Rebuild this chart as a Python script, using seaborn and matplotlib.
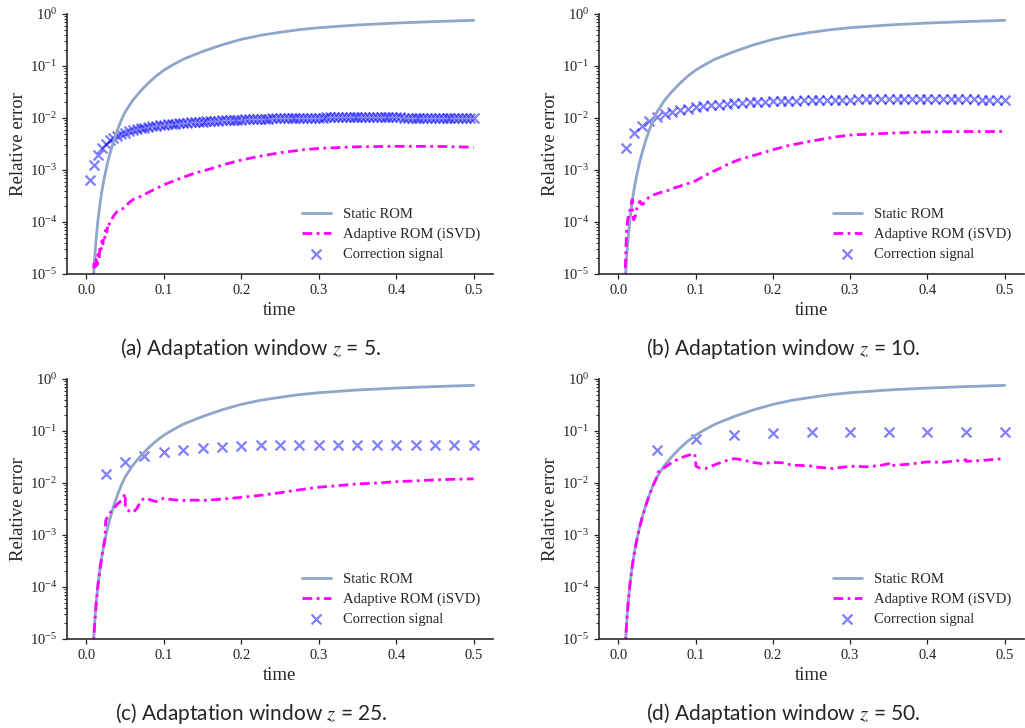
import numpy as np
import pandas as pd
import matplotlib
matplotlib.use("Agg")
import matplotlib.pyplot as plt
import seaborn as sns

# ---------------- data ----------------
static_t = [0.008, 0.0095, 0.011, 0.0125, 0.015, 0.0175, 0.02, 0.0225, 0.025, 0.0275,
            0.03, 0.035, 0.04, 0.045, 0.05, 0.06, 0.07, 0.08, 0.09, 0.1, 0.11, 0.125,
            0.15, 0.175, 0.2, 0.225, 0.25, 0.275, 0.3, 0.35, 0.4, 0.45, 0.5]
static_err = [2e-6, 1e-5, 2.3e-5, 4.5e-5, 1.1e-4, 2.2e-4, 3.9e-4, 6.3e-4, 9.5e-4, 1.4e-3,
              1.95e-3, 3.5e-3, 5.8e-3, 9.0e-3, 1.3e-2, 2.2e-2, 3.3e-2, 4.7e-2, 6.4e-2, 8.3e-2,
              0.102, 0.135, 0.19, 0.255, 0.325, 0.39, 0.445, 0.5, 0.545, 0.615, 0.67, 0.715, 0.755]

# (a) z = 5
a_adapt_t = [0.007, 0.009, 0.01, 0.0115, 0.0125, 0.014, 0.015, 0.0165, 0.0175, 0.019, 0.02,
             0.0215, 0.0225, 0.024, 0.025, 0.0265, 0.0275, 0.029, 0.03, 0.0325, 0.035, 0.0375,
             0.04, 0.045, 0.05, 0.055, 0.06, 0.07, 0.08, 0.09, 0.1, 0.12, 0.14, 0.16, 0.18,
             0.2, 0.22, 0.25, 0.28, 0.3, 0.35, 0.4, 0.45, 0.5]
a_adapt_err = [5e-6, 1.0e-5, 1.6e-5, 1.2e-5, 1.9e-5, 1.5e-5, 2.4e-5, 2.0e-5, 3.2e-5, 2.8e-5, 4.3e-5,
               3.8e-5, 5.5e-5, 5.0e-5, 7.0e-5, 6.4e-5, 8.5e-5, 8.0e-5, 1.0e-4, 1.1e-4, 1.3e-4, 1.45e-4,
               1.6e-4, 1.75e-4, 1.9e-4, 2.35e-4, 2.7e-4, 3.1e-4, 3.7e-4, 4.4e-4, 5.2e-4, 6.8e-4,
               8.7e-4, 1.05e-3, 1.3e-3, 1.55e-3, 1.8e-3, 2.15e-3, 2.45e-3, 2.6e-3, 2.8e-3, 2.85e-3,
               2.85e-3, 2.75e-3]
a_corr_t = [round(0.005 * k, 3) for k in range(1, 101)]
a_corr_milli = [0.65, 1.25, 1.95, 2.6, 3.2, 3.7, 4.15, 4.55, 4.9, 5.25,
                5.55, 5.8, 6.05, 6.3, 6.5, 6.7, 6.9, 7.05, 7.2, 7.35,
                7.5, 7.65, 7.8, 7.9, 8.0, 8.15, 8.25, 8.35, 8.45, 8.55,
                8.65, 8.75, 8.85, 8.9, 9.0, 9.1, 9.15, 9.2, 9.3, 9.35,
                9.4, 9.5, 9.55, 9.6, 9.65, 9.7, 9.75, 9.8, 9.85, 9.9,
                9.95, 10.0, 10.0, 10.05, 10.1, 10.1, 10.15, 10.15, 10.2, 10.2,
                10.2, 10.25, 10.25, 10.25, 10.3, 10.3, 10.3, 10.3, 10.3, 10.3,
                10.3, 10.3, 10.3, 10.3, 10.3, 10.3, 10.25, 10.25, 10.25, 10.25,
                10.25, 10.2, 10.2, 10.2, 10.2, 10.2, 10.15, 10.15, 10.15, 10.15,
                10.1, 10.1, 10.1, 10.1, 10.1, 10.05, 10.05, 10.05, 10.05, 10.0]

# (b) z = 10
b_adapt_t = [0.008, 0.0095, 0.0105, 0.012, 0.015, 0.018, 0.0185, 0.02, 0.022, 0.025, 0.028,
             0.03, 0.032, 0.035, 0.04, 0.045, 0.05, 0.055, 0.06, 0.07, 0.08, 0.09, 0.1, 0.11,
             0.12, 0.13, 0.14, 0.15, 0.16, 0.18, 0.2, 0.22, 0.25, 0.28, 0.3, 0.35, 0.4, 0.45, 0.5]
b_adapt_err = [5e-6, 2e-5, 6e-5, 1.1e-4, 1.7e-4, 2.7e-4, 1.5e-4, 1.1e-4, 1.3e-4, 2.2e-4, 2.5e-4,
               2.2e-4, 2.2e-4, 2.6e-4, 3.0e-4, 3.3e-4, 3.5e-4, 3.7e-4, 3.8e-4, 4.4e-4, 4.9e-4,
               5.5e-4, 6.2e-4, 7.5e-4, 9.0e-4, 1.05e-3, 1.25e-3, 1.45e-3, 1.65e-3, 2.0e-3,
               2.45e-3, 2.95e-3, 3.6e-3, 4.3e-3, 4.7e-3, 5.1e-3, 5.4e-3, 5.5e-3, 5.5e-3]
b_corr_t = [round(0.01 * k, 3) for k in range(1, 51)]
b_corr_milli = [2.7, 5.1, 7.0, 8.8, 10.3, 11.7, 13.0, 14.1, 15.1, 16.0,
                16.8, 17.5, 18.1, 18.7, 19.2, 19.6, 20.0, 20.4, 20.7, 21.0,
                21.3, 21.5, 21.7, 21.9, 22.1, 22.2, 22.3, 22.4, 22.5, 22.6,
                22.7, 22.7, 22.8, 22.8, 22.8, 22.9, 22.9, 22.9, 22.9, 22.9,
                22.9, 22.8, 22.8, 22.8, 22.7, 22.7, 22.6, 22.6, 22.5, 22.5]

# (c) z = 25
c_adapt_t = [0.008, 0.0095, 0.011, 0.0125, 0.015, 0.0175, 0.02, 0.0225, 0.024, 0.025, 0.027,
             0.03, 0.035, 0.04, 0.045, 0.049, 0.05, 0.0505, 0.055, 0.06, 0.065, 0.07, 0.075,
             0.08, 0.085, 0.09, 0.1, 0.11, 0.125, 0.14, 0.15, 0.175, 0.2, 0.225, 0.25, 0.275,
             0.3, 0.325, 0.35, 0.375, 0.4, 0.425, 0.45, 0.475, 0.5]
c_adapt_err = [2e-6, 1e-5, 2.3e-5, 4.5e-5, 1.1e-4, 2.2e-4, 3.9e-4, 6.3e-4, 8.5e-4, 1.9e-3, 2.2e-3,
               2.6e-3, 3.2e-3, 3.9e-3, 4.6e-3, 5.8e-3, 6.3e-3, 3.3e-3, 2.9e-3, 2.7e-3, 3.2e-3,
               4.5e-3, 5.1e-3, 4.9e-3, 4.6e-3, 4.4e-3, 5.1e-3, 4.8e-3, 4.6e-3, 4.7e-3, 4.6e-3,
               4.9e-3, 5.3e-3, 5.8e-3, 6.5e-3, 7.4e-3, 8.3e-3, 8.9e-3, 9.6e-3, 1.0e-2, 1.06e-2,
               1.1e-2, 1.15e-2, 1.18e-2, 1.2e-2]
c_corr_t = [round(0.025 * k, 3) for k in range(1, 21)]
c_corr_milli = [14.9, 25.0, 33.0, 39.0, 44.0, 48.0, 50.0, 51.5, 53.0, 54.0,
                54.5, 55.0, 55.0, 55.0, 55.0, 55.0, 55.0, 55.0, 55.0, 55.0]

# (d) z = 50
d_adapt_t = [0.008, 0.0095, 0.011, 0.0125, 0.015, 0.0175, 0.02, 0.0225, 0.025, 0.0275, 0.03,
             0.035, 0.04, 0.045, 0.049, 0.051, 0.055, 0.06, 0.065, 0.07, 0.075, 0.08, 0.085,
             0.09, 0.095, 0.099, 0.1005, 0.105, 0.113, 0.12, 0.13, 0.14, 0.15, 0.16, 0.173,
             0.186, 0.2, 0.212, 0.225, 0.246, 0.26, 0.277, 0.3, 0.324, 0.341, 0.35, 0.3505,
             0.376, 0.4, 0.42, 0.45, 0.4505, 0.475, 0.5]
d_adapt_err = [2e-6, 1e-5, 2.3e-5, 4.5e-5, 1.1e-4, 2.2e-4, 3.9e-4, 6.3e-4, 9.5e-4, 1.4e-3, 1.95e-3,
               3.5e-3, 5.8e-3, 9.0e-3, 1.2e-2, 1.6e-2, 1.75e-2, 2.0e-2, 2.25e-2, 2.5e-2, 2.75e-2,
               3.0e-2, 3.2e-2, 3.4e-2, 3.55e-2, 3.65e-2, 2.1e-2, 1.95e-2, 1.9e-2, 2.1e-2, 2.4e-2,
               2.7e-2, 2.95e-2, 2.8e-2, 2.5e-2, 2.35e-2, 2.5e-2, 2.45e-2, 2.2e-2, 2.15e-2, 2.0e-2,
               1.9e-2, 2.1e-2, 2.05e-2, 2.2e-2, 2.35e-2, 2.15e-2, 2.3e-2, 2.55e-2, 2.5e-2, 2.8e-2,
               2.6e-2, 2.75e-2, 2.95e-2]
d_corr_t = [round(0.05 * k, 3) for k in range(1, 11)]
d_corr_milli = [44.0, 69.0, 83.0, 90.0, 94.0, 96.0, 97.0, 97.0, 97.0, 97.0]

captions = ["(a) Adaptation window $z$ = 5.", "(b) Adaptation window $z$ = 10.",
            "(c) Adaptation window $z$ = 25.", "(d) Adaptation window $z$ = 50."]
x_ticks = [0.0, 0.1, 0.2, 0.3, 0.4, 0.5]
labels = ["Static ROM", "Adaptive ROM (iSVD)", "Correction signal"]

# ---------------- style ----------------
sns.set_theme(style="ticks")
plt.rcParams["font.family"] = ["Liberation Serif", "DejaVu Serif"]
plt.rcParams["mathtext.fontset"] = "stix"
plt.rcParams["axes.edgecolor"] = "#333333"
plt.rcParams["xtick.major.size"] = 3.5
plt.rcParams["ytick.major.size"] = 3.5
plt.rcParams["ytick.minor.size"] = 2.0
plt.rcParams["xtick.major.width"] = 0.9
plt.rcParams["ytick.major.width"] = 0.9
plt.rcParams["ytick.minor.width"] = 0.7

STATIC_C = "#8ea6c9"
ADAPT_C = "#ff00ff"
CORR_C = "blue"

fig = plt.figure(figsize=(10.25, 7.28), dpi=100)
W, H = 1025.0, 728.0
rects = [
    [67 / W, 1 - 274 / H, 426 / W, 260 / H],
    [599 / W, 1 - 274 / H, 425 / W, 260 / H],
    [67 / W, 1 - 639 / H, 426 / W, 260 / H],
    [599 / W, 1 - 639 / H, 425 / W, 260 / H],
]
panels = [
    (a_adapt_t, a_adapt_err, a_corr_t, a_corr_milli),
    (b_adapt_t, b_adapt_err, b_corr_t, b_corr_milli),
    (c_adapt_t, c_adapt_err, c_corr_t, c_corr_milli),
    (d_adapt_t, d_adapt_err, d_corr_t, d_corr_milli),
]
cap_pos = [(251 / W, 1 - 348 / H), (783 / W, 1 - 348 / H),
           (251 / W, 1 - 713 / H), (783 / W, 1 - 713 / H)]

for rect, (at, ae, ct, cm), cap, cp in zip(rects, panels, captions, cap_pos):
    ax = fig.add_axes(rect)
    ax.set_yscale("log")
    sns.lineplot(x=static_t, y=static_err, ax=ax, color=STATIC_C, linewidth=2.0,
                 label=labels[0], estimator=None, sort=False)
    sns.lineplot(x=at, y=ae, ax=ax, color=ADAPT_C, linewidth=2.0,
                 linestyle=(0, (3.5, 1.6, 1.0, 1.6)), label=labels[1],
                 estimator=None, sort=False)
    sns.scatterplot(x=ct, y=np.array(cm) * 1e-3, ax=ax, marker="x", s=50,
                    color=CORR_C, alpha=0.5, linewidth=1.6, label=labels[2])
    ax.set_xlim(-0.025, 0.525)
    ax.set_ylim(1e-5, 1.0)
    ax.set_xticks(x_ticks)
    ax.set_xticklabels([f"{v:.1f}" for v in x_ticks])
    ax.tick_params(axis="both", which="major", labelsize=10.5, colors="#222222")
    ax.set_xlabel("time", fontsize=13.5, labelpad=4)
    ax.set_ylabel("Relative error", fontsize=13.5, labelpad=2)
    sns.despine(ax=ax)
    ax.legend(loc="lower right", frameon=False, fontsize=10.5, handlelength=2.0,
              labelspacing=0.45)
    fig.text(cp[0], cp[1], cap, ha="center", va="center", fontsize=15,
             family=["Lato", "DejaVu Sans"])

fig.savefig("out.png", dpi=100)
